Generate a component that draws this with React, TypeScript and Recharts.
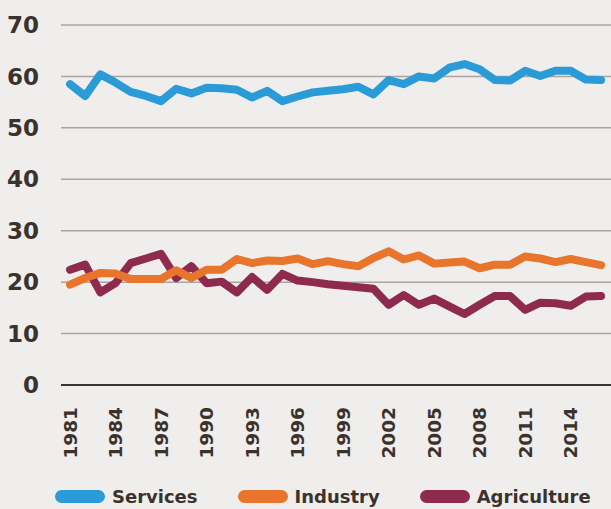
import { LineChart, Line, XAxis, YAxis, CartesianGrid, Legend } from 'recharts';

const years = [
  1981, 1982, 1983, 1984, 1985, 1986, 1987, 1988, 1989, 1990, 1991, 1992,
  1993, 1994, 1995, 1996, 1997, 1998, 1999, 2000, 2001, 2002, 2003, 2004,
  2005, 2006, 2007, 2008, 2009, 2010, 2011, 2012, 2013, 2014, 2015, 2016
];

const services = [
  58.5, 56.2, 60.4, 58.8, 57.0, 56.2, 55.2, 57.6, 56.7, 57.8, 57.7, 57.4,
  55.9, 57.2, 55.2, 56.1, 56.9, 57.2, 57.5, 58.0, 56.5, 59.3, 58.5, 60.0,
  59.6, 61.7, 62.4, 61.4, 59.3, 59.2, 61.1, 60.1, 61.1, 61.1, 59.4, 59.3
];

const industry = [
  19.5, 20.8, 21.8, 21.7, 20.6, 20.6, 20.6, 22.3, 20.8, 22.4, 22.4, 24.5,
  23.7, 24.2, 24.1, 24.6, 23.5, 24.1, 23.5, 23.1, 24.7, 26.0, 24.4, 25.2,
  23.6, 23.8, 24.0, 22.7, 23.4, 23.4, 25.0, 24.6, 23.9, 24.5, 23.9, 23.3
];

const agriculture = [
  22.4, 23.4, 18.0, 19.8, 23.7, 24.6, 25.5, 20.8, 23.1, 19.8, 20.1, 18.0,
  21.0, 18.5, 21.6, 20.3, 20.0, 19.6, 19.3, 19.0, 18.7, 15.6, 17.5, 15.6,
  16.8, 15.3, 13.8, 15.6, 17.3, 17.3, 14.6, 16.0, 15.9, 15.4, 17.2, 17.3
];

const yTicks = [0, 10, 20, 30, 40, 50, 60, 70];

const series = [
  { key: 'Services', color: '#2a9bd6' },
  { key: 'Industry', color: '#e8752b' },
  { key: 'Agriculture', color: '#8f2a4f' }
];

const data = years.map((y, i) => ({
  year: String(y),
  Services: services[i],
  Industry: industry[i],
  Agriculture: agriculture[i]
}));

const textColor = '#3b322c';
const font = '"DejaVu Sans", sans-serif';

function YearTick(props: any) {
  const { x, y, payload } = props;
  return (
    <g transform={`translate(${x},${y + 14})`}>
      <text
        transform="rotate(-90)"
        textAnchor="end"
        dy="0.36em"
        fill={textColor}
        fontSize={18.5}
        fontWeight={700}
        fontFamily={font}
      >
        {payload.value}
      </text>
    </g>
  );
}

function LegendBox() {
  return (
    <div style={{ display: 'flex', alignItems: 'center', paddingLeft: 55, height: 26 }}>
      {series.map((s) => (
        <div key={s.key} style={{ display: 'flex', alignItems: 'center', marginRight: 40 }}>
          <span
            style={{
              display: 'inline-block',
              width: 50,
              height: 13,
              borderRadius: 7,
              background: s.color,
              marginRight: 7
            }}
          />
          <span style={{ fontFamily: font, fontWeight: 700, fontSize: 18, color: textColor }}>
            {s.key}
          </span>
        </div>
      ))}
    </div>
  );
}

export default function App() {
  return (
    <div style={{ position: 'fixed', top: 0, left: 0, width: 611, height: 509, background: '#efeeec' }}>
      <LineChart width={611} height={509} data={data} margin={{ top: 25, right: 0, left: 0, bottom: 0 }}>
        <CartesianGrid vertical={false} stroke="#aaa4a0" strokeWidth={1.5} />
        <XAxis
          dataKey="year"
          interval={2}
          padding={{ left: 9, right: 10 }}
          height={98}
          axisLine={{ stroke: '#3d352f', strokeWidth: 2 }}
          tickLine={false}
          tick={<YearTick />}
        />
        <YAxis
          domain={[0, 70]}
          ticks={yTicks}
          width={61}
          axisLine={false}
          tickLine={false}
          tickMargin={16}
          tick={{ fill: textColor, fontSize: 23, fontWeight: 700, fontFamily: font }}
        />
        <Legend verticalAlign="bottom" height={26} content={<LegendBox />} />
        <Line
          dataKey="Services"
          stroke="#2a9bd6"
          strokeWidth={8}
          dot={false}
          strokeLinecap="round"
          strokeLinejoin="round"
          isAnimationActive={false}
        />
        <Line
          dataKey="Agriculture"
          stroke="#8f2a4f"
          strokeWidth={8}
          dot={false}
          strokeLinecap="round"
          strokeLinejoin="round"
          isAnimationActive={false}
        />
        <Line
          dataKey="Industry"
          stroke="#e8752b"
          strokeWidth={8}
          dot={false}
          strokeLinecap="round"
          strokeLinejoin="round"
          isAnimationActive={false}
        />
      </LineChart>
    </div>
  );
}
